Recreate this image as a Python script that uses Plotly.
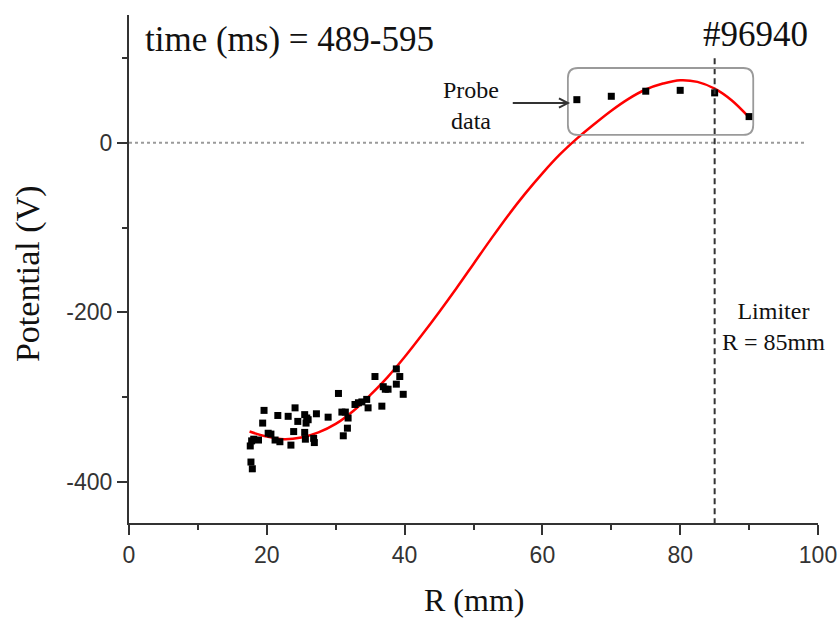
import plotly.graph_objects as go

# ---- data ----
scan_r = [19.6, 19.4, 20.2, 20.6, 17.8, 17.6, 18.1, 17.7, 17.9, 18.8, 21.2, 21.9, 21.6, 23.1, 24.1,
          23.9, 23.5, 24.5, 25.5, 25.8, 26.0, 25.7, 25.5, 25.6, 26.8, 26.9, 27.2, 28.9, 30.4,
          30.9, 31.4, 31.8, 31.7, 31.1, 32.8, 33.3, 33.8, 34.5, 34.7, 35.7, 36.7, 36.9, 37.2,
          37.6, 38.8, 38.8, 39.3, 39.8]
scan_v = [-316, -331, -343, -344, -352, -358, -350, -377, -385, -351, -351, -353, -322, -323, -313,
          -341, -357, -329, -321, -325, -327, -331, -342, -350, -349, -354, -320, -324, -296,
          -318, -318, -325, -337, -346, -309, -307, -306, -303, -313, -276, -311, -288, -291,
          -291, -285, -267, -276, -297]

probe_r = [65, 70, 75, 80, 85, 90]
probe_v = [51, 55, 61, 62, 59, 31]

fit_r = [17.5, 20, 22.5, 25, 27.5, 30, 32.5, 35, 37.5, 40, 42.5, 45, 47.5, 50, 52.5, 55,
         57.5, 60, 62.5, 65, 67.5, 70, 72.5, 75, 77.5, 80, 82.5, 85, 87.5, 90]
fit_v = [-341, -347, -350, -348, -342, -332, -317, -298, -277, -253, -227, -200, -172, -143, -114, -86,
         -60, -36, -14, 5, 22, 38, 52, 63, 70, 74, 72, 64, 50, 30]

x_ticks = [0, 20, 40, 60, 80, 100]
y_ticks = [-400, -200, 0]
y_tick_text = ["-400", "-200", "0"]
limiter_r = 85

SERIF = "Liberation Serif, Times New Roman, serif"
SANS = "Liberation Sans, Arial, sans-serif"

fig = go.Figure()

fig.add_trace(go.Scatter(x=fit_r, y=fit_v, mode="lines",
                         line=dict(color="#ff0000", width=2.5, shape="spline", smoothing=1.0),
                         hoverinfo="skip", showlegend=False))
fig.add_trace(go.Scatter(x=scan_r + probe_r, y=scan_v + probe_v, mode="markers",
                         marker=dict(symbol="square", size=7, color="black"), showlegend=False))

# zero dotted line
fig.add_shape(type="line", x0=0, x1=98.4, y0=0, y1=0, xref="x", yref="y",
              line=dict(color="#9a9a9a", width=2, dash="dot"), layer="below")
# limiter dashed line
fig.add_shape(type="line", x0=limiter_r, x1=limiter_r, y0=100, y1=-449, xref="x", yref="y",
              line=dict(color="#333333", width=2, dash="6px,4px"))

# rounded box around probe data
bx0, bx1, by0, by1 = 63.7, 90.6, 9.3, 88.4
rx, ry = 1.45, 11.8
path = (f"M {bx0+rx},{by1} L {bx1-rx},{by1} Q {bx1},{by1} {bx1},{by1-ry} "
        f"L {bx1},{by0+ry} Q {bx1},{by0} {bx1-rx},{by0} L {bx0+rx},{by0} "
        f"Q {bx0},{by0} {bx0},{by0+ry} L {bx0},{by1-ry} Q {bx0},{by1} {bx0+rx},{by1} Z")
fig.add_shape(type="path", path=path, xref="x", yref="y", line=dict(color="#9a9a9a", width=1.8))

# arrow
fig.add_shape(type="line", x0=55.7, x1=63.6, y0=47, y1=47, xref="x", yref="y",
              line=dict(color="#333333", width=2))
fig.add_shape(type="path", path="M 62.4,52.5 L 63.7,47 L 62.4,41.5", xref="x", yref="y",
              line=dict(color="#333333", width=2))

annotations = [
    dict(x=2.0, y=121.5, text="time (ms) = 489-595", xanchor="left", yanchor="middle", showarrow=False,
         font=dict(family=SERIF, size=35, color="#111111")),
    dict(x=90.9, y=128, text="#96940", xanchor="center", yanchor="middle", showarrow=False,
         font=dict(family=SERIF, size=35, color="#111111")),
    dict(x=49.6, y=44.7, text="Probe<br>data", xanchor="center", yanchor="middle", showarrow=False,
         font=dict(family=SERIF, size=24, color="#111111")),
    dict(x=93.5, y=-217, text="Limiter<br>R = 85mm", xanchor="center", yanchor="middle", showarrow=False,
         font=dict(family=SERIF, size=24, color="#111111")),
    dict(xref="paper", yref="paper", x=0.5, y=-0.1516, text="R (mm)", xanchor="center", yanchor="middle",
         showarrow=False, font=dict(family=SERIF, size=32, color="#111111")),
    dict(xref="paper", yref="paper", x=-0.1466, y=0.492, text="Potential (V)", textangle=-90,
         xanchor="center", yanchor="middle", showarrow=False, font=dict(family=SERIF, size=34, color="#111111")),
]
for a in annotations:
    a.setdefault("xref", "x")
    a.setdefault("yref", "y")
fig.update_layout(annotations=annotations)

fig.update_layout(
    width=839, height=619,
    margin=dict(l=129, r=21, t=15, b=96),
    paper_bgcolor="white", plot_bgcolor="white",
    xaxis=dict(range=[0, 100], tickvals=x_ticks, showgrid=False, zeroline=False, automargin=False,
               showline=True, linecolor="#333333", linewidth=2,
               ticks="outside", ticklen=10, tickwidth=2, tickcolor="#333333",
               minor=dict(ticks="outside", ticklen=5, tickwidth=2, tickcolor="#333333", dtick=10, showgrid=False),
               tickfont=dict(family=SANS, size=23, color="#333333")),
    yaxis=dict(range=[-449, 151], tickvals=y_ticks, ticktext=y_tick_text, showgrid=False, zeroline=False,
               automargin=False,
               showline=True, linecolor="#333333", linewidth=2,
               ticks="outside", ticklen=10, tickwidth=2, tickcolor="#333333",
               minor=dict(ticks="outside", ticklen=5, tickwidth=2, tickcolor="#333333", dtick=100, tick0=0, showgrid=False),
               tickfont=dict(family=SANS, size=23, color="#333333")),
)

fig.write_html("out.html")
